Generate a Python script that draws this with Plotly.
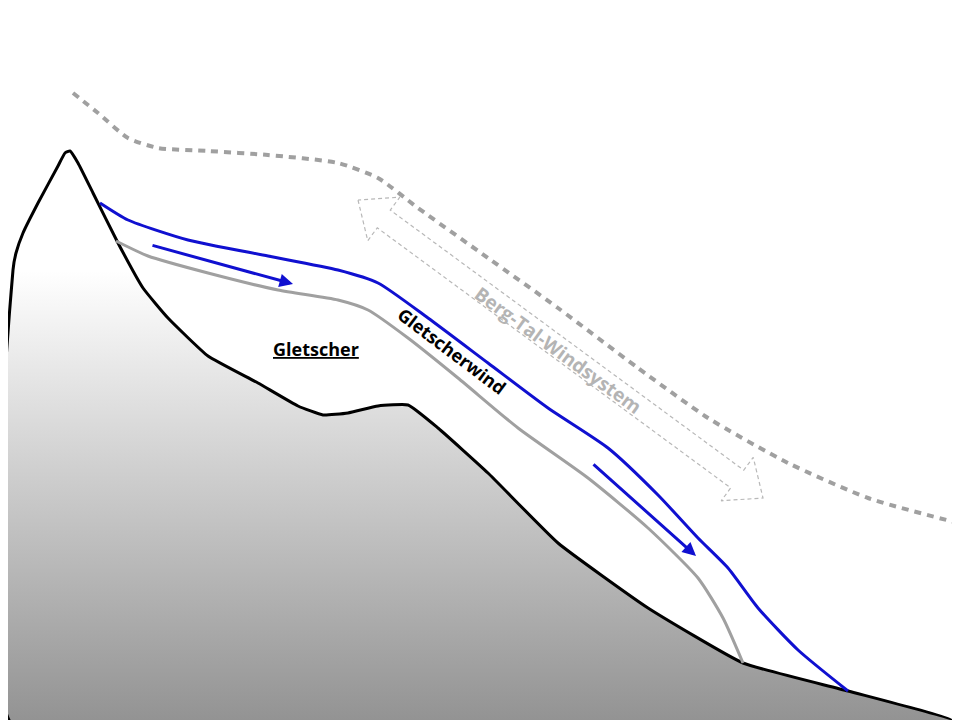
import numpy as np
import plotly.graph_objects as go

# terrain outline (pixel space, y grows downward)
mountain_x = [5, 5, 8, 15, 30, 50, 57, 62, 70, 85, 110, 135, 160, 200, 250, 290, 315, 340, 370, 400, 430, 480, 550, 640, 735, 840, 945, 5]
mountain_y = [718, 262, 245, 225, 195, 158, 145, 143, 155, 185, 235, 280, 310, 348, 375, 398, 407, 405, 398, 397, 420, 465, 535, 600, 655, 683, 713, 718]

glacier_x = [108, 140, 200, 270, 330, 360, 400, 450, 510, 580, 640, 690, 715, 735]
glacier_y = [233, 248, 265, 282, 292, 302, 330, 370, 420, 470, 520, 570, 610, 655]

wind_x = [92, 120, 180, 260, 330, 370, 420, 480, 540, 600, 650, 690, 720, 750, 790, 840]
wind_y = [195, 212, 232, 248, 262, 275, 310, 355, 400, 440, 487, 530, 560, 600, 642, 683]

valley_x = [65, 90, 120, 150, 200, 260, 330, 370, 410, 480, 550, 630, 700, 780, 860, 950]
valley_y = [85, 105, 130, 140, 143, 147, 155, 170, 200, 250, 300, 360, 410, 455, 490, 515]

wind_arrows = [((143, 237), (285, 276)), ((584, 455), (688, 548))]
double_arrow = ((350, 192), (755, 490))

fig = go.Figure()

fig.add_trace(go.Scatter(
    x=mountain_x, y=mountain_y, mode="lines", line=dict(color="black", width=3, shape="spline", smoothing=0.4),
    fill="toself",
    fillgradient=dict(type="vertical", colorscale=[[0, "#8c8c8c"], [0.8, "#ffffff"], [1, "#ffffff"]]),
    hoverinfo="skip"))
fig.add_trace(go.Scatter(x=glacier_x, y=glacier_y, mode="lines",
                         line=dict(color="#a0a0a0", width=3, shape="spline", smoothing=0.6)))
fig.add_trace(go.Scatter(x=wind_x, y=wind_y, mode="lines",
                         line=dict(color="#1010d0", width=3, shape="spline", smoothing=0.6)))
fig.add_trace(go.Scatter(x=valley_x, y=valley_y, mode="lines",
                         line=dict(color="#a0a0a0", width=4, dash="7px,6px", shape="spline", smoothing=0.6)))

for (x0, y0), (x1, y1) in wind_arrows:
    fig.add_annotation(x=x1, y=y1, ax=x0, ay=y0, xref="x", yref="y", axref="x", ayref="y",
                       showarrow=True, arrowhead=2, arrowsize=0.9, arrowwidth=3, arrowcolor="#1010d0", text="")

# outlined double arrow
(ax0, ay0), (ax1, ay1) = double_arrow
p0, p1 = np.array([ax0, ay0], float), np.array([ax1, ay1], float)
d = (p1 - p0) / np.linalg.norm(p1 - p0)
n = np.array([-d[1], d[0]])
hl, sw, hw = 32, 11, 27
pts = [p0, p0 + d * hl + n * hw, p0 + d * hl + n * sw, p1 - d * hl + n * sw, p1 - d * hl + n * hw, p1,
       p1 - d * hl - n * hw, p1 - d * hl - n * sw, p0 + d * hl - n * sw, p0 + d * hl - n * hw, p0]
fig.add_trace(go.Scatter(x=[p[0] for p in pts], y=[p[1] for p in pts], mode="lines",
                         line=dict(color="#b8b8b8", width=1.2, dash="4px,3px")))

fig.add_annotation(x=308, y=341, text="<b><u>Gletscher</u></b>", showarrow=False,
                   font=dict(family="Open Sans, Arial", size=18, color="black"))
fig.add_annotation(x=444, y=343, text="<b>Gletscherwind</b>", showarrow=False, textangle=37,
                   font=dict(family="Open Sans, Arial", size=18, color="black"))
fig.add_annotation(x=550, y=342, text="<b>Berg-Tal-Windsystem</b>", showarrow=False, textangle=36,
                   font=dict(family="Open Sans, Arial", size=19, color="#b4b4b4"))

fig.update_layout(
    width=960, height=720, margin=dict(l=0, r=0, t=0, b=0), showlegend=False,
    plot_bgcolor="white", paper_bgcolor="white",
    xaxis=dict(range=[0, 960], visible=False),
    yaxis=dict(range=[720, 0], visible=False),
)
fig.write_html("out.html")
